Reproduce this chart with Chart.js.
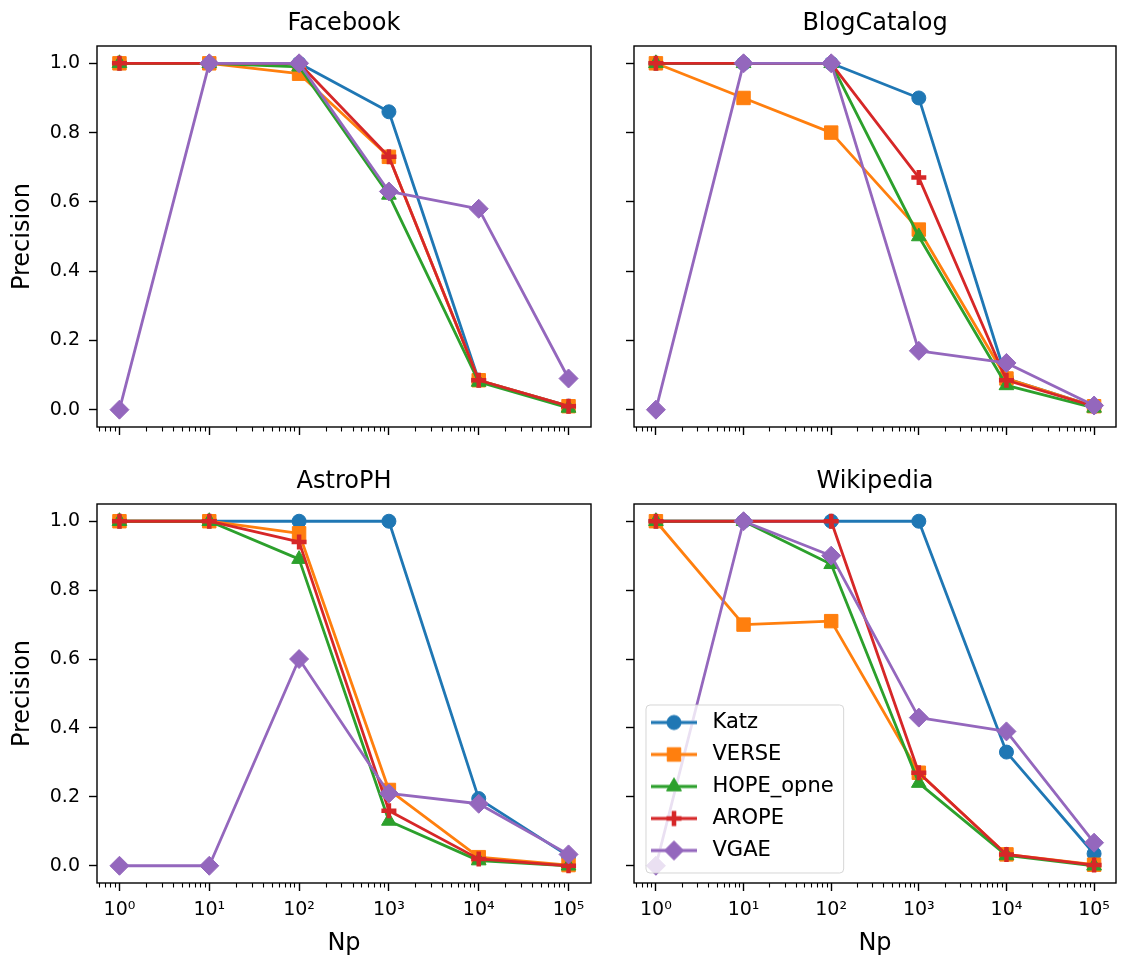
<!DOCTYPE html>
<html>
<head>
<meta charset="utf-8">
<title>Precision vs Np</title>
<script src="https://cdn.jsdelivr.net/npm/chart.js@4.4.1/dist/chart.umd.min.js"></script>
<style>
  body { margin: 0; background: #fff; }
  #wrap { position: relative; width: 1128px; height: 964px; overflow: hidden; }
  canvas { position: absolute; }
</style>
</head>
<body>
<div id="wrap">
  <canvas id="c0" width="612" height="450" style="left:0;top:0"></canvas>
  <canvas id="c1" width="516" height="450" style="left:612px;top:0"></canvas>
  <canvas id="c2" width="612" height="514" style="left:0;top:450px"></canvas>
  <canvas id="c3" width="516" height="514" style="left:612px;top:450px"></canvas>
</div>
<script>
// x positions and tick labels
const npValues = [1, 10, 100, 1000, 10000, 100000];
const xTickLabels = ['10⁰', '10¹', '10²', '10³', '10⁴', '10⁵'];
const yTicks = [0, 0.2, 0.4, 0.6, 0.8, 1.0];
const methods = ['Katz', 'VERSE', 'HOPE_opne', 'AROPE', 'VGAE'];

// Facebook
const facebookKatz  = [1, 1, 1,    0.86, 0.085, 0.01];
const facebookVerse = [1, 1, 0.97, 0.73, 0.085, 0.01];
const facebookHope  = [1, 1, 0.99, 0.62, 0.08,  0.005];
const facebookArope = [1, 1, 1,    0.73, 0.085, 0.01];
const facebookVgae  = [0, 1, 1,    0.63, 0.58,  0.09];

// BlogCatalog
const blogKatz  = [1, 1,    1,    0.90, 0.09,  0.01];
const blogVerse = [1, 0.90, 0.80, 0.52, 0.09,  0.01];
const blogHope  = [1, 1,    1,    0.50, 0.07,  0.005];
const blogArope = [1, 1,    1,    0.67, 0.085, 0.01];
const blogVgae  = [0, 1,    1,    0.17, 0.135, 0.012];

// AstroPH
const astroKatz  = [1, 1, 1,     1,    0.195, 0.028];
const astroVerse = [1, 1, 0.965, 0.22, 0.025, 0.002];
const astroHope  = [1, 1, 0.89,  0.13, 0.015, 0.0];
const astroArope = [1, 1, 0.94,  0.16, 0.02,  0.0];
const astroVgae  = [0, 0, 0.60,  0.21, 0.18,  0.033];

// Wikipedia
const wikiKatz  = [1, 1,    1,     1,    0.33,  0.035];
const wikiVerse = [1, 0.70, 0.71,  0.27, 0.033, 0.003];
const wikiHope  = [1, 1,    0.875, 0.24, 0.03,  0.0];
const wikiArope = [1, 1,    1,     0.27, 0.033, 0.002];
const wikiVgae  = [0, 1,    0.90,  0.43, 0.39,  0.067];

const panels = [
  { id: 'c0', title: 'Facebook',    series: [facebookKatz, facebookVerse, facebookHope, facebookArope, facebookVgae] },
  { id: 'c1', title: 'BlogCatalog', series: [blogKatz, blogVerse, blogHope, blogArope, blogVgae] },
  { id: 'c2', title: 'AstroPH',     series: [astroKatz, astroVerse, astroHope, astroArope, astroVgae] },
  { id: 'c3', title: 'Wikipedia',   series: [wikiKatz, wikiVerse, wikiHope, wikiArope, wikiVgae] }
];

const colors = ['#1f77b4', '#ff7f0e', '#2ca02c', '#d62728', '#9467bd'];
const markers = [
  { style: 'circle',   r: 7,   bw: 1 },
  { style: 'rect',     r: 9.5, bw: 1 },
  { style: 'triangle', r: 8.5, bw: 1 },
  { style: 'cross',    r: 7.5, bw: 4.5 },
  { style: 'rectRot',  r: 9.5, bw: 1 }
];
const FONT = 'DejaVu Sans';
const LINE_W = 2.8;
const xMin = Math.pow(10, -0.25);
const xMax = Math.pow(10, 5.25);

// minor log ticks 2..9 x 10^k inside the x range
const minorTicks = [];
for (let e = -1; e <= 5; e++) {
  for (let m = 2; m <= 9; m++) {
    const v = m * Math.pow(10, e);
    if (v > xMin && v < xMax) minorTicks.push(v);
  }
}

// legend icons: line sample with the marker on top
function makeIcon(k) {
  const c = document.createElement('canvas');
  c.width = 51; c.height = 24;
  const ctx = c.getContext('2d');
  ctx.strokeStyle = colors[k];
  ctx.fillStyle = colors[k];
  ctx.lineWidth = LINE_W;
  ctx.beginPath(); ctx.moveTo(0, 12); ctx.lineTo(46, 12); ctx.stroke();
  ctx.lineWidth = markers[k].bw;
  Chart.helpers.drawPoint(ctx, { pointStyle: markers[k].style, radius: markers[k].r, borderWidth: markers[k].bw, rotation: 0 }, 23, 12);
  return c;
}
const legendIcons = methods.map((m, k) => makeIcon(k));

// box around the axes + framed legend drawn above the lines
const framePlugin = {
  id: 'frame',
  afterLayout(chart) {
    const lg = chart.legend;
    if (lg && lg.options.display) {
      lg.left = 28;
      lg.right = chart.chartArea.right;
      lg.top = 251;
      lg.bottom = chart.chartArea.bottom;
    }
  },
  afterDatasetsDraw(chart) {
    const { ctx, chartArea: a } = chart;
    ctx.save();
    ctx.strokeStyle = '#000';
    ctx.lineWidth = 1.4;
    ctx.strokeRect(a.left, a.top, a.right - a.left, a.bottom - a.top);
    const lg = chart.legend;
    if (lg && lg.options.display && lg.legendHitBoxes.length) {
      const hb = lg.legendHitBoxes;
      const last = hb[hb.length - 1];
      const l = hb[0].left - 5;
      const t = hb[0].top - 7;
      const r = Math.max(...hb.map(h => h.left + h.width)) + 10;
      const b = last.top + last.height + 12;
      ctx.beginPath();
      ctx.roundRect(l, t, r - l, b - t, 4);
      ctx.fillStyle = 'rgba(255,255,255,0.8)';
      ctx.fill();
      ctx.strokeStyle = 'rgba(204,204,204,0.8)';
      ctx.lineWidth = 1;
      ctx.stroke();
      ctx.restore();
      lg.draw();
      return;
    }
    ctx.restore();
  }
};

panels.forEach((p, idx) => {
  const isLeft = idx % 2 === 0;
  const isBottom = idx >= 2;
  const showLegend = idx === 3;

  const datasets = p.series.map((vals, k) => ({
    label: methods[k],
    data: npValues.map((x, i) => ({ x: x, y: vals[i] })),
    borderColor: colors[k],
    backgroundColor: colors[k],
    borderWidth: LINE_W,
    borderJoinStyle: 'round',
    pointStyle: markers[k].style,
    pointRadius: markers[k].r,
    pointBorderWidth: markers[k].bw,
    pointBackgroundColor: colors[k],
    pointBorderColor: colors[k],
    tension: 0,
    order: 5 - k,
    xAxisID: 'x',
    yAxisID: 'y'
  }));

  new Chart(document.getElementById(p.id), {
    type: 'line',
    data: { datasets },
    options: {
      responsive: false,
      animation: false,
      devicePixelRatio: 1,
      layout: { padding: { left: 0, top: 0, bottom: 0, right: isLeft ? 21 : 1 } },
      plugins: {
        title: {
          display: true,
          text: p.title,
          color: '#000',
          fullSize: false,
          font: { family: FONT, size: 24, weight: 'normal' },
          padding: { top: isBottom ? 17.6 : 9.6, bottom: 7.6 }
        },
        tooltip: { enabled: false },
        legend: {
          display: showLegend,
          position: 'chartArea',
          align: 'start',
          labels: {
            usePointStyle: true,
            pointStyleWidth: 51,
            padding: 11,
            color: '#000',
            font: { family: FONT, size: 21 },
            sort: (a, b) => a.datasetIndex - b.datasetIndex,
            generateLabels: chart => chart.data.datasets.map((ds, i) => ({
              text: ds.label,
              pointStyle: legendIcons[i],
              datasetIndex: i,
              fontColor: '#000',
              fillStyle: ds.borderColor,
              strokeStyle: ds.borderColor,
              lineWidth: 0,
              hidden: false
            }))
          }
        }
      },
      scales: {
        x: {
          type: 'logarithmic',
          position: 'bottom',
          weight: 1,
          min: xMin,
          max: xMax,
          bounds: 'data',
          afterBuildTicks: s => { s.ticks = npValues.map(v => ({ value: v, major: true })); },
          afterFit: s => { s.height = isBottom ? 81 : 23; },
          grid: { drawOnChartArea: false, tickLength: 8, tickWidth: 1.4, tickColor: '#000' },
          border: { display: false },
          ticks: {
            display: isBottom,
            autoSkip: false,
            maxRotation: 0,
            padding: 8,
            color: '#000',
            font: { family: FONT, size: 19 },
            callback: (v, i) => xTickLabels[i]
          },
          title: {
            display: isBottom,
            text: 'Np',
            color: '#000',
            font: { family: FONT, size: 24 },
            padding: { top: 0, bottom: 5.6 }
          }
        },
        xm: {
          type: 'logarithmic',
          position: 'bottom',
          weight: 0,
          min: xMin,
          max: xMax,
          bounds: 'data',
          afterBuildTicks: s => { s.ticks = minorTicks.map(v => ({ value: v })); },
          afterFit: s => { s.height = 0; },
          grid: { drawOnChartArea: false, tickLength: 4.5, tickWidth: 1.1, tickColor: '#000' },
          border: { display: false },
          ticks: { display: false }
        },
        y: {
          type: 'linear',
          position: 'left',
          min: -0.05,
          max: 1.05,
          bounds: 'data',
          afterBuildTicks: s => { s.ticks = yTicks.map(v => ({ value: v })); },
          afterFit: s => { s.width = isLeft ? 97 : 22; },
          grid: { drawOnChartArea: false, tickLength: 8, tickWidth: 1.4, tickColor: '#000' },
          border: { display: false },
          ticks: {
            display: isLeft,
            padding: 9,
            color: '#000',
            font: { family: FONT, size: 19 },
            callback: v => v.toFixed(1)
          },
          title: {
            display: isLeft,
            text: 'Precision',
            color: '#000',
            font: { family: FONT, size: 24 },
            padding: { top: 8.6, bottom: 0 }
          }
        }
      }
    },
    plugins: [framePlugin]
  });
});
</script>
</body>
</html>
